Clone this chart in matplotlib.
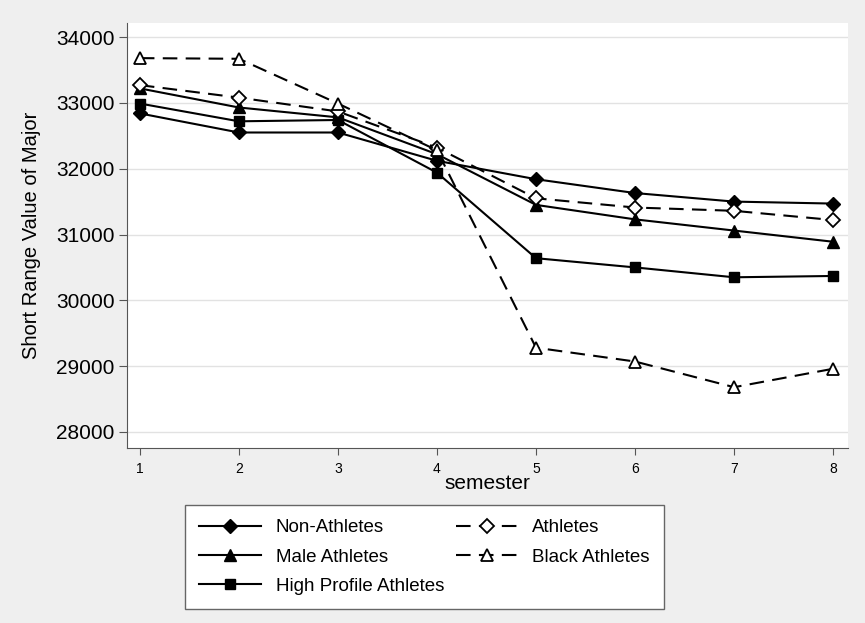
import matplotlib.pyplot as plt

plt.rcParams['font.family'] = ['Liberation Sans', 'DejaVu Sans']

semester = [1, 2, 3, 4, 5, 6, 7, 8]
non_athletes = [32840, 32550, 32550, 32120, 31840, 31630, 31500, 31470]
athletes = [33270, 33080, 32870, 32320, 31550, 31410, 31360, 31220]
male_athletes = [33220, 32930, 32780, 32220, 31450, 31230, 31060, 30890]
black_athletes = [33680, 33670, 32990, 32280, 29280, 29070, 28680, 28960]
high_profile = [32990, 32720, 32740, 31940, 30640, 30500, 30350, 30370]

y_ticks = [28000, 29000, 30000, 31000, 32000, 33000, 34000]

bg = '#efefef'
fig = plt.figure(figsize=(8.65, 6.23), dpi=100, facecolor=bg)
ax = fig.add_axes([0.1468, 0.281, 0.8335, 0.682])
ax.set_facecolor('white')

ax.grid(axis='y', color='#e2e2e2', lw=1)
ax.set_axisbelow(True)

lw = 1.5
dash = (0, (7, 4))
l_non, = ax.plot(semester, non_athletes, color='black', lw=lw, marker='D', ms=7,
                 label='Non-Athletes')
l_male, = ax.plot(semester, male_athletes, color='black', lw=lw, marker='^', ms=8,
                  label='Male Athletes')
l_high, = ax.plot(semester, high_profile, color='black', lw=lw, marker='s', ms=7,
                  label='High Profile Athletes')
l_ath, = ax.plot(semester, athletes, color='black', lw=lw, ls=dash, marker='D', ms=7,
                 mfc='white', mew=1.3, label='Athletes')
l_blk, = ax.plot(semester, black_athletes, color='black', lw=lw, ls=dash, marker='^', ms=8,
                 mfc='white', mew=1.3, label='Black Athletes')

ax.set_xlim(0.87, 8.15)
ax.set_ylim(27757, 34213)
ax.set_xticks(semester)
ax.set_yticks(y_ticks)
ax.tick_params(axis='y', labelsize=15, length=6, color='#555555', pad=3)
ax.tick_params(axis='x', labelsize=10, length=5, color='#555555', pad=5)

for side in ['top', 'right']:
    ax.spines[side].set_visible(False)
for side in ['left', 'bottom']:
    ax.spines[side].set_color('#555555')

ax.set_xlabel('semester', fontsize=15, labelpad=-1)
ax.set_ylabel('Short Range Value of Major', fontsize=14.5, labelpad=11)

leg = fig.legend(handles=[l_non, l_male, l_high, l_ath, l_blk], ncol=2,
                 loc='upper left', bbox_to_anchor=(185 / 865, 1 - 608 / 623, 479 / 865, 103 / 623),
                 mode='expand', fontsize=13.5, frameon=True, fancybox=False,
                 handlelength=3.3, handletextpad=0.8, columnspacing=1.0,
                 labelspacing=0.65, borderpad=0.75, borderaxespad=0)
leg.get_frame().set_edgecolor('#666666')
leg.get_frame().set_facecolor('white')
leg.get_frame().set_alpha(1)

fig.savefig('out.png', dpi=100, facecolor=bg)
